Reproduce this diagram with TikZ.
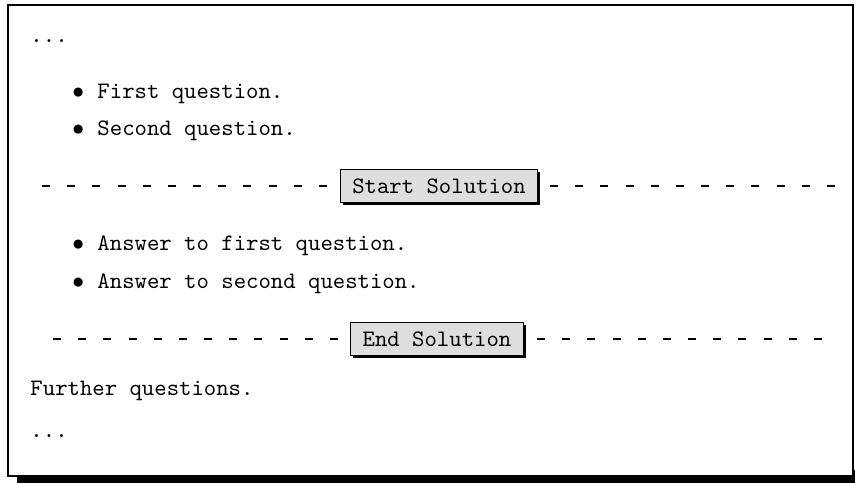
\documentclass[tikz,border=0pt]{standalone}
\usepackage{amssymb,amsmath}
\usepackage{tikz}
\usepackage{xcolor}
\usetikzlibrary{positioning,shadows}

\begin{document}
\begin{tikzpicture}[x=0.4237pt,y=-0.4237pt,
	txt/.style={font=\ttfamily, anchor=base west, inner sep=0pt},
	solbox/.style={draw=black, line width=0.5pt, fill=black!13, font=\ttfamily,
		inner xsep=5pt, inner ysep=0pt, minimum height=14pt,
		general shadow={fill=black, shadow xshift=1.1pt, shadow yshift=-1.1pt}},
	soldash/.style={line width=0.85pt, dash pattern=on 3.4pt off 7.27pt}]
	\useasboundingbox (0,0) rectangle (855,483);
	% frame with shadow
	\fill [black] (17,470) rectangle (855,483);
	\draw [black, line width=1.2pt, fill=white] (8,5) rectangle (853,476);
	% question part
	\node [txt] (dots1) at (30,42) {...};
	\node [txt] (b1) at (72,98) {$\bullet$};
	\node [txt] (q1) at (97,98) {First question.};
	\node [txt] (b2) at (72,135) {$\bullet$};
	\node [txt] (q2) at (97,135) {Second question.};
	% start of solution
	\node [solbox] (start) at (439,186) {Start Solution};
	\coordinate (sl) at (42,186);
	\coordinate (sr) at (835,186);
	\draw [soldash] (sl) -- (start);
	\draw [soldash] (sr) -- (start);
	% answers
	\node [txt] (b3) at (72,250) {$\bullet$};
	\node [txt] (a1) at (97,250) {Answer to first question.};
	\node [txt] (b4) at (72,288) {$\bullet$};
	\node [txt] (a2) at (97,288) {Answer to second question.};
	% end of solution
	\node [solbox] (end) at (437,339) {End Solution};
	\coordinate (el) at (53,339);
	\coordinate (er) at (822,339);
	\draw [soldash] (el) -- (end);
	\draw [soldash] (er) -- (end);
	% rest
	\node [txt] (fq) at (30,395) {Further questions.};
	\node [txt] (dots2) at (30,437) {...};
\end{tikzpicture}
\end{document}
